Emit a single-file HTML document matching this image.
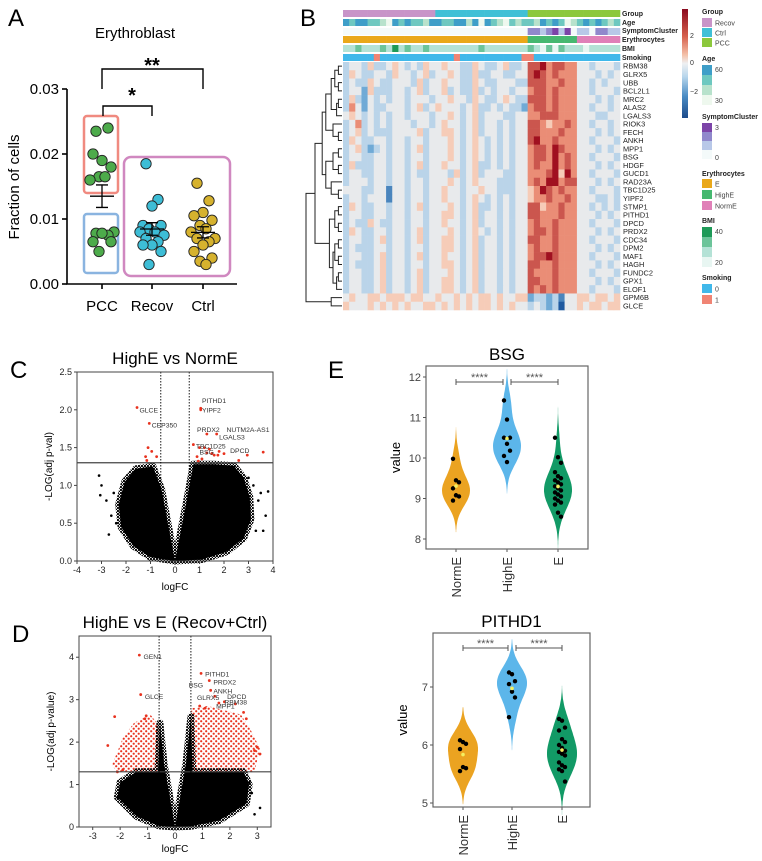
<!DOCTYPE html>
<html><head><meta charset="utf-8"><style>
html,body{margin:0;padding:0;background:#fff;}
svg{display:block;font-family:"Liberation Sans",Arial,sans-serif;}
</style></head><body>
<svg id="fig" width="762" height="861" viewBox="0 0 762 861" xmlns="http://www.w3.org/2000/svg">
<defs>
<pattern id="redDots" width="5" height="5" patternUnits="userSpaceOnUse"><circle cx="1.2" cy="1.2" r="1.1" fill="#e8321e"/><circle cx="3.7" cy="3.7" r="1.1" fill="#e8321e"/></pattern>
<pattern id="blkDots" width="3" height="3" patternUnits="userSpaceOnUse"><circle cx="1" cy="1" r="1.1" fill="#000"/><circle cx="2.5" cy="2.4" r="0.8" fill="#000"/></pattern>
</defs>
<text x="8" y="26" font-size="24">A</text>
<text x="300" y="26" font-size="24">B</text>
<text x="10" y="378" font-size="24">C</text>
<text x="12" y="642" font-size="24">D</text>
<text x="328" y="378" font-size="24">E</text>
<g id="pA"></g>
<g id="pB"></g>
<g id="pC"></g>
<g id="pD"></g>
<g id="pE"></g>
</svg>
<script>
// ---------- Panel A data ----------
const aCategories = ["PCC","Recov","Ctrl"];
const aPCC = [0.0235,0.024,0.019,0.020,0.018,0.0165,0.0165,0.016,0.0080,0.0078,0.0075,0.0078,0.0065,0.0065,0.0050];
const aRecov = [0.0185,0.0130,0.0120,0.0090,0.0090,0.0085,0.0080,0.0080,0.0075,0.0070,0.0065,0.0060,0.0060,0.0050,0.0030];
const aCtrl = [0.0155,0.0128,0.0110,0.0105,0.0098,0.0090,0.0085,0.0080,0.0070,0.0070,0.0065,0.0060,0.0050,0.0040,0.0035,0.0030];
const aYTicks = [0,0.01,0.02,0.03];
const aYTickLabels = ["0.00","0.01","0.02","0.03"];

// ---------- Panel B data ----------
const bGenes = ["RBM38","GLRX5","UBB","BCL2L1","MRC2","ALAS2","LGALS3","RIOK3","FECH","ANKH","MPP1","BSG","HDGF","GUCD1","RAD23A","TBC1D25","YIPF2","STMP1","PITHD1","DPCD","PRDX2","CDC34","DPM2","MAF1","HAGH","FUNDC2","GPX1","ELOF1","GPM6B","GLCE"];
const bRows = [
"344353345434354 454433543345334 77867766 4434443",
"354334435443453 445433533443344 78767666 4443434",
"343354334443534 454433543344433 77766766 4434344",
"344253334434534 453433534344344 67767666 4434443",
"353243434434443 445443543345433 77767666 4443434",
"364243344434534 544434533434332 67767666 4434434",
"454343434434443 445434534443344 66777666 4443344",
"346343434443443 454434534434344 77656676 4434434",
"345343334444534 455434534434344 77666766 4443434",
"354334434434434 445434543434344 78667666 4434443",
"345323434434534 445434543434344 67768766 4443434",
"344334434434434 445434543434344 67768676 4434443",
"353334434434534 454434533434344 67668676 4443434",
"344334434434334 443534534443344 66678586 4434443",
"344434434434434 445434544433344 67688677 4443434",
"444334414434434 454434454433344 56876766 4434443",
"344344414434434 454434543434344 56676676 4443343",
"354334434434534 445434533434344 77566766 4434343",
"344334434434434 455434534434344 77666766 4443434",
"343354334434434 454434534434344 67667666 4434443",
"354334434434534 445434543434344 67767666 4443434",
"344334534434534 455434534434344 77667666 4434443",
"343334434434434 455434534434344 67667666 4443434",
"344334534434534 454434534434344 67787666 4434443",
"343334534434434 455434534434344 77667666 4443434",
"344334534434534 445434534434344 76667666 4434443",
"344334534434534 455434534434344 77667666 4443434",
"344334534434534 455434534434344 76767666 4434443",
"454455455545544 544545455454455 23323144 5545545",
"544454545454455 454545455454544 34323044 5455455"];
const bLevelValues = [-3,-2.2,-1.5,-0.8,0,0.7,1.4,2.1,3];
const bAge = "323322103232213 322331303210212 21323201 2323212";
const bSymptom = "000000000000000 000000000000000 22123130 1102211";
const bBMI = "112111213121121 111111121111111 21020211 1011111";
const bSmoking = "000001000000000 000100000000001 10000000 0000000";
const bGroupCounts = [15,15,15];

// ---------- Panel C data ----------
const cRedX = [-1.55,-1.05,1.05,1.05,1.3,1.7,0.75,1.0,1.2,1.4,1.5,1.6,1.8,2.0,2.6,2.95,3.6,-1.1,-0.95,-1.2,-0.75,0.9,1.1,1.3,1.75,-1.15,0.95];
const cRedY = [2.03,1.82,2.02,2.0,1.68,1.68,1.54,1.5,1.5,1.48,1.42,1.40,1.45,1.42,1.33,1.40,1.44,1.5,1.45,1.38,1.38,1.38,1.35,1.43,1.40,1.33,1.32];
const cBlackX = [-3.1,-3.0,-2.8,-2.5,-2.6,-2.4,-3.05,3.4,3.5,3.8,3.2,3.0,3.3,3.6,-2.7,3.7];
const cBlackY = [1.13,1.0,0.8,0.9,0.6,0.5,0.87,0.8,0.9,0.92,1.0,1.1,0.4,0.4,0.35,0.6];
const cLeftWing = [[0,0],[-0.55,0.95],[-0.9,1.25],[-1.6,1.22],[-2.05,1.05],[-2.3,0.75],[-2.2,0.45],[-1.7,0.2],[-1.0,0.05]];
const cRightWing = [[0,0],[0.45,0.75],[0.75,1.28],[1.6,1.28],[2.4,1.26],[2.8,1.1],[3.05,0.85],[3.1,0.55],[2.8,0.3],[2.1,0.12],[1.1,0.02]];
const cLabels = [["PITHD1",1.1,2.12],["YIPF2",1.1,2.0],["GLCE",-1.45,2.0],["CEP350",-0.95,1.8],["PRDX2",0.9,1.74],["NUTM2A-AS1",2.1,1.74],["LGALS3",1.8,1.64],["TBC1D25",0.85,1.52],["BSG",1.0,1.44],["DPCD",2.25,1.46]];
const cXTicks = [-4,-3,-2,-1,0,1,2,3,4];
const cYTicks = [0,0.5,1.0,1.5,2.0,2.5];
const cYTickLabels = ["0.0","0.5","1.0","1.5","2.0","2.5"];

// ---------- Panel D data ----------
const dRedX = [-1.3,-1.25,0.95,1.25,1.3,1.45,1.6,-2.2,-2.45,-1.05,-1.1,2.5,2.6,3.0,3.1,2.9,-1.9,-2.1,0.9,1.1,2.2,1.8];
const dRedY = [4.05,3.12,3.62,3.45,3.22,3.08,2.92,2.6,1.92,2.62,2.55,2.7,2.55,1.88,1.72,1.8,1.35,1.3,2.85,2.8,2.9,2.95];
const dBlackX = [-2.0,-2.1,-1.9,2.9,3.1,2.8,2.6,2.7,-1.8];
const dBlackY = [0.85,0.7,1.0,0.3,0.45,0.8,1.0,1.05,0.65];
const dLeftRed = [[-0.62,1.3],[-0.6,2.4],[-0.9,2.65],[-1.5,2.45],[-1.9,2.1],[-2.3,1.45],[-2.1,1.3]];
const dRightRed = [[0.62,1.3],[0.6,2.8],[1.2,2.85],[1.8,2.75],[2.4,2.65],[2.75,2.3],[3.1,1.85],[2.9,1.3]];
const dLeftWing = [[0,0],[-0.4,1.5],[-0.55,2.45],[-0.62,1.3],[-1.4,1.3],[-2.0,1.05],[-2.1,0.7],[-1.4,0.25],[-0.6,0.03]];
const dRightWing = [[0,0],[0.4,1.5],[0.58,2.6],[0.64,1.3],[2.5,1.3],[2.7,1.0],[2.6,0.55],[1.6,0.15],[0.6,0.02]];
const dLabels = [["GEN1",-1.15,4.02],["GLCE",-1.1,3.08],["PITHD1",1.1,3.6],["PRDX2",1.4,3.42],["BSG",0.5,3.35],["ANKH",1.4,3.2],["DPCD",1.9,3.08],["GLRX5",0.8,3.05],["RBM38",1.8,2.95],["MPP1",1.5,2.85]];
const dXTicks = [-3,-2,-1,0,1,2,3];
const dYTicks = [0,1,2,3,4];

// ---------- Panel E data ----------
const eCategories = ["NormE","HighE","E"];
const bsgNormE = [9.98,9.45,9.40,9.25,9.08,9.05,8.95];
const bsgHighE = [11.42,10.95,10.5,10.5,10.35,10.18,10.05,9.9];
const bsgE = [10.5,10.02,9.88,9.65,9.55,9.5,9.45,9.4,9.35,9.3,9.25,9.2,9.15,9.1,9.05,9.0,8.95,8.9,8.85,8.65,8.55];
const pitNormE = [6.08,6.05,6.02,5.93,5.62,5.60,5.55];
const pitHighE = [7.25,7.22,7.10,7.05,6.92,6.82,6.48];
const pitE = [6.45,6.42,6.3,6.25,6.1,6.05,6.0,5.95,5.9,5.88,5.85,5.82,5.7,5.65,5.62,5.58,5.55,5.37];
const bsgYTicks = [8,9,10,11,12];
const pitYTicks = [5,6,7];

const NS = "http://www.w3.org/2000/svg";
function mk(parent, tag, attrs, text){
  const e = document.createElementNS(NS, tag);
  for (const k in attrs) e.setAttribute(k, attrs[k]);
  if (text !== undefined) e.textContent = text;
  parent.appendChild(e);
  return e;
}

// ================= Panel A =================
(function(){
  const g = document.getElementById('pA');
  const y = v => 284 - v/0.03*195;
  const xc = [102,152,203];
  let t = mk(g,'text',{x:135,y:38,'font-size':15,'text-anchor':'middle'},'Erythroblast');
  
  
  let r = mk(g,'rect',{x:84,y:116,width:34,height:77,rx:3,fill:'none',stroke:'#f08a80','stroke-width':2.5});
   
  r = mk(g,'rect',{x:84,y:214,width:34,height:59,rx:3,fill:'none',stroke:'#8ab4e0','stroke-width':2.5});
   
  r = mk(g,'rect',{x:124,y:157,width:106,height:119,rx:7,fill:'none',stroke:'#d088c0','stroke-width':2.5});
   
  let ax = mk(g,'path',{d:'M67,89 V284 H237',fill:'none',stroke:'#000','stroke-width':1.6});
   
  aYTicks.forEach((v,i)=>{
    mk(g,'line',{x1:62,x2:67,y1:y(v),y2:y(v),stroke:'#000','stroke-width':1.6});
    const tl = mk(g,'text',{x:59,y:y(v)+5,'font-size':15,'text-anchor':'end'},aYTickLabels[i]);
     
  });
  aCategories.forEach((c,i)=>{
    mk(g,'line',{x1:xc[i],x2:xc[i],y1:284,y2:289,stroke:'#000','stroke-width':1.6});
    const tl = mk(g,'text',{x:xc[i],y:311,'font-size':15,'text-anchor':'middle'},c);
     
  });
  const yl = mk(g,'text',{x:0,y:0,'font-size':15,'text-anchor':'middle',transform:'translate(19,187) rotate(-90)'},'Fraction of cells');
   
  const br1 = mk(g,'path',{d:'M102,89 V69 H203 V89',fill:'none',stroke:'#000','stroke-width':1.4});
   
  const s1 = mk(g,'text',{x:152,y:72,'font-size':20,'font-weight':'bold','text-anchor':'middle'},'**');
   
  const br2 = mk(g,'path',{d:'M103,116 V106 H152 V116',fill:'none',stroke:'#000','stroke-width':1.4});
   
  const s2 = mk(g,'text',{x:132,y:102,'font-size':20,'font-weight':'bold','text-anchor':'middle'},'*');
   
  const series = [[aPCC,'#4dab4b'],[aRecov,'#3dbdd6'],[aCtrl,'#d6b22e']];
  const jit = [-6,6,0,-9,9,-3,3,-12,12];
  series.forEach(([vals,col],i)=>{
    const mean = vals.reduce((a,b)=>a+b,0)/vals.length;
    const sd = Math.sqrt(vals.reduce((a,b)=>a+(b-mean)**2,0)/(vals.length-1));
    const se = sd/Math.sqrt(vals.length);
    vals.forEach((v,j)=>{
      const c = mk(g,'circle',{cx:xc[i]+jit[j%jit.length],cy:y(v),r:5.2,fill:col,stroke:'#222','stroke-width':0.9});
       
    });
    const m = mk(g,'path',{d:`M${xc[i]-12},${y(mean)} H${xc[i]+12} M${xc[i]},${y(mean-se)} V${y(mean+se)} M${xc[i]-6},${y(mean-se)} H${xc[i]+6} M${xc[i]-6},${y(mean+se)} H${xc[i]+6}`,stroke:'#000','stroke-width':1.3,fill:'none'});
     
  });
})();

// ================= Panel B =================
(function(){
  const g = document.getElementById('pB');
  const x0=343, x1=620, nC=45, cw=(x1-x0)/nC, y0=62, rh=(310-62)/30;
  const stops=[[-3,[31,90,160]],[-1.5,[112,170,214]],[-0.7,[196,218,236]],[0,[232,234,236]],[0.7,[246,204,184]],[1.5,[232,132,108]],[3,[160,16,32]]];
  function col(v){
    for(let i=0;i<stops.length-1;i++){
      const [a,ca]=stops[i],[b,cb]=stops[i+1];
      if(v<=b){const t=Math.max(0,(v-a)/(b-a));return `rgb(${ca.map((c,k)=>Math.round(c+(cb[k]-c)*t)).join(',')})`;}
    }
    return 'rgb(160,16,32)';
  }
  const clean = s => s.replace(/ /g,'').padEnd(nC,'4');
  bRows.forEach((row,ri)=>{
    const r = clean(row);
    for(let c=0;c<nC;c++){
      const cell = mk(g,'rect',{x:(x0+c*cw).toFixed(2),y:(y0+ri*rh).toFixed(2),width:(cw+0.3).toFixed(2),height:(rh+0.3).toFixed(2),fill:col(bLevelValues[+r[c]])});
       
    }
    const lb = mk(g,'text',{x:623,y:y0+ri*rh+rh/2+2.6,'font-size':7.4,fill:'#222'},bGenes[ri]);
     
  });
  const groupCols=['#c894c8','#40c0d6','#8cc83c'];
  const ageCols=['#eef8ee','#b8e2cc','#6ec8c0','#3e9ec8'];
  const symCols=['#f4fafa','#b8c8e8','#9088cc','#7c44a8'];
  const bmiCols=['#e8f6f2','#b4e2d6','#6cc49a','#1e9a58'];
  const smkCols=['#40b8ea','#f08474'];
  function track(ty,fn,name){
    for(let c=0;c<nC;c++){
      const rc = mk(g,'rect',{x:(x0+c*cw).toFixed(2),y:ty,width:(cw+0.3).toFixed(2),height:7,fill:fn(c)});
       
    }
  }
  const grpIdx=[]; bGroupCounts.forEach((n,i)=>{for(let k=0;k<n;k++)grpIdx.push(i);});
  track(10,c=>groupCols[grpIdx[c]],'group-annotation');
  track(19,c=>ageCols[+clean(bAge)[c]],'age-annotation');
  track(28,c=>symCols[+clean(bSymptom)[c]],'symptom-annotation');
  track(36,c=>c<30?'#eaa81a':(c<38?'#46b870':'#e080b8'),'erythrocytes-annotation');
  track(45,c=>bmiCols[+clean(bBMI)[c]],'bmi-annotation');
  track(54,c=>smkCols[+clean(bSmoking)[c]],'smoking-annotation');
  [["Group",16],["Age",25],["SymptomCluster",33],["Erythrocytes",42],["BMI",51],["Smoking",60]].forEach(([s,yy])=>{
    const t = mk(g,'text',{x:622,y:yy,'font-size':7,'font-weight':'bold',fill:'#222'},s);
     
  });
  const g1=[[[0,1,.1],[2,3,.1],.2],[[4,5,.1],6,.15],.3];
  const g2=[7,[8,9,.1],.25];
  const g3=[[10,11,.1],[12,13,.1],.25];
  const g4=[14,[15,16,.1],.3];
  const g5=[[[17,18,.1],[19,20,.1],.2],[[[21,22,.1],[23,24,.1],.2],[[25,26,.1],27,.15],.25],.35];
  const g6=[28,29,.3];
  const tree=[[[[g1,g2,.45],[g3,g4,.45],.55],g5,.75],g6,1.0];
  let dp='';
  function walk(n){
    if(typeof n==='number') return {y:y0+(n+0.5)*rh,x:342};
    const a=walk(n[0]),b=walk(n[1]),hx=342-n[2]*36;
    dp+=`M${a.x},${a.y}H${hx}V${b.y}H${b.x}`;
    return {y:(a.y+b.y)/2,x:hx};
  }
  walk(tree);
  const dd = mk(g,'path',{d:dp,fill:'none',stroke:'#222','stroke-width':1});
   
  const grad = mk(document.querySelector('defs'),'linearGradient',{id:'cbar',x1:0,y1:0,x2:0,y2:1});
  [[0,'#8a0a1e'],[0.25,'#d6604d'],[0.42,'#f4c0a8'],[0.5,'#eef0f2'],[0.62,'#b8d6ec'],[0.8,'#4a8cc4'],[1,'#1c4a8a']].forEach(([o,c])=>mk(grad,'stop',{offset:o,'stop-color':c}));
  const cb = mk(g,'rect',{x:682,y:9,width:6,height:109,fill:'url(#cbar)'});
   
  [["2",38],["0",65],["\u22122",94]].forEach(([s,yy])=>{const t=mk(g,'text',{x:690,y:yy,'font-size':7,fill:'#333'},s);});
  const L=(s,yy)=>{const t=mk(g,'text',{x:702,y:yy,'font-size':7,'font-weight':'bold',fill:'#222'},s);};
  const E=(c,yy,h,s,ty)=>{const r=mk(g,'rect',{x:702,y:yy,width:10,height:h,fill:c});if(s){const t=mk(g,'text',{x:715,y:ty||yy+h-1.5,'font-size':7,fill:'#444'},s);}};
  L('Group',14); E('#c894c8',18,9,'Recov'); E('#40c0d6',28,9,'Ctrl'); E('#8cc83c',38,9,'PCC');
  L('Age',61); E('#3e9ec8',65,10,'60',72); E('#6ec8c0',75,10); E('#b8e2cc',85,10); E('#eef8ee',95,10,'30',103);
  L('SymptomCluster',119); E('#7c44a8',123,9,'3',130); E('#9088cc',132,9); E('#b8c8e8',141,9); E('#f4fafa',150,9,'0',160);
  L('Erythrocytes',176); E('#eaa81a',179,9,'E'); E('#46b870',190,9,'HighE'); E('#e080b8',201,9,'NormE');
  L('BMI',223); E('#1e9a58',227,10,'40',234); E('#6cc49a',237,10); E('#b4e2d6',247,10); E('#e8f6f2',257,10,'20',265);
  L('Smoking',280); E('#40b8ea',284,9,'0'); E('#f08474',295,9,'1');
})();

// ================= Volcano helper =================
function volcano(gid, o){
  const g=document.getElementById(gid);
  const X=v=>o.L+(v-o.xmin)/(o.xmax-o.xmin)*(o.R-o.L);
  const Y=v=>o.B-(v-o.ymin)/(o.ymax-o.ymin)*(o.B-o.T);
  const t=mk(g,'text',{x:(o.L+o.R)/2,y:o.T-8,'font-size':17,'text-anchor':'middle'},o.title);
   
  const poly=(pts,fill,stroke,sw,name)=>{const p=mk(g,'path',{d:'M'+pts.map(q=>X(q[0]).toFixed(1)+','+Y(q[1]).toFixed(1)).join('L')+'Z',fill:fill,stroke:stroke,'stroke-width':sw,'stroke-linejoin':'round'});};
  (o.redPolys||[]).forEach(pp=>poly(pp,'url(#redDots)','none',0,'significant-gene-cloud'));
  o.wings.forEach(pp=>poly(pp,'#000','url(#blkDots)',7,'nonsignificant-gene-cloud'));
  o.bx.forEach((v,i)=>{const c=mk(g,'circle',{cx:X(v),cy:Y(o.by[i]),r:1.3,fill:'#000'});});
  o.rx.forEach((v,i)=>{const c=mk(g,'circle',{cx:X(v),cy:Y(o.ry[i]),r:1.4,fill:'#e8321e'});});
  mk(g,'line',{x1:o.L,x2:o.R,y1:Y(1.3),y2:Y(1.3),stroke:'#444','stroke-width':1.2});
  [-0.58,0.58].forEach(v=>mk(g,'line',{x1:X(v),x2:X(v),y1:o.T,y2:o.B,stroke:'#000','stroke-width':0.9,'stroke-dasharray':'1.5,1.5'}));
  const fr=mk(g,'rect',{x:o.L,y:o.T,width:o.R-o.L,height:o.B-o.T,fill:'none',stroke:'#444','stroke-width':1});
   
  o.xt.forEach(v=>{mk(g,'line',{x1:X(v),x2:X(v),y1:o.B,y2:o.B+3,stroke:'#444'});const tl=mk(g,'text',{x:X(v),y:o.B+12,'font-size':9,'text-anchor':'middle',fill:'#222'},String(v));});
  o.yt.forEach((v,i)=>{mk(g,'line',{x1:o.L-3,x2:o.L,y1:Y(v),y2:Y(v),stroke:'#444'});const tl=mk(g,'text',{x:o.L-5,y:Y(v)+3,'font-size':9,'text-anchor':'end',fill:'#222'},o.ytl?o.ytl[i]:String(v));});
  const xl=mk(g,'text',{x:(o.L+o.R)/2,y:o.xlY,'font-size':10,'text-anchor':'middle'},'logFC');
   
  const yl=mk(g,'text',{x:0,y:0,'font-size':10,'text-anchor':'middle',transform:`translate(${o.L-25},${(o.T+o.B)/2}) rotate(-90)`},o.ylab);
   
  o.labels.forEach(([s,lx,ly])=>{const tl=mk(g,'text',{x:X(lx),y:Y(ly)+2.5,'font-size':6.8,fill:'#333'},s);});
}
volcano('pC',{L:77,R:273,T:372,B:561,xmin:-4,xmax:4,ymin:0,ymax:2.5,title:'HighE vs NormE',wings:[cLeftWing,cRightWing],bx:cBlackX,by:cBlackY,rx:cRedX,ry:cRedY,xt:cXTicks,yt:cYTicks,ytl:cYTickLabels,xlY:590,ylab:'-LOG(adj p-val)',labels:cLabels});
volcano('pD',{L:79,R:271,T:636,B:827,xmin:-3.5,xmax:3.5,ymin:0,ymax:4.5,title:'HighE vs E (Recov+Ctrl)',redPolys:[dLeftRed,dRightRed],wings:[dLeftWing,dRightWing],bx:dBlackX,by:dBlackY,rx:dRedX,ry:dRedY,xt:dXTicks,yt:dYTicks,xlY:852,ylab:'-LOG(adj p-value)',labels:dLabels});

// ================= Panel E =================
function violinPanel(o){
  const g=document.getElementById('pE');
  const Y=v=>o.y0-(v-o.v0)*o.ppu;
  const t=mk(g,'text',{x:(o.L+o.R)/2,y:o.T-6,'font-size':17,'text-anchor':'middle'},o.title);
   
  const cols=['#eba321','#5cb6ea','#129a66'];
  o.groups.forEach((vals,gi)=>{
    const xc=o.xc[gi], bw=o.bw;
    const lo=Math.min(...vals)-2.6*bw, hi=Math.max(...vals)+2.6*bw;
    const ys=[],ds=[];
    for(let k=0;k<=60;k++){const v=lo+(hi-lo)*k/60;let d=0;vals.forEach(p=>d+=Math.exp(-0.5*((v-p)/bw)**2));ys.push(v);ds.push(d);}
    const mx=Math.max(...ds);
    let d='M'+ys.map((v,k)=>(xc+ds[k]/mx*o.w).toFixed(1)+','+Y(v).toFixed(1)).join('L');
    for(let k=60;k>=0;k--) d+='L'+(xc-ds[k]/mx*o.w).toFixed(1)+','+Y(ys[k]).toFixed(1);
    const p=mk(g,'path',{d:d+'Z',fill:cols[gi]});
     
    vals.forEach((v,j)=>{const c=mk(g,'circle',{cx:xc+((j%3)-1)*3,cy:Y(v),r:2.2,fill:'#000'});});
    const mean=vals.reduce((a,b)=>a+b,0)/vals.length;
    const m=mk(g,'circle',{cx:xc,cy:Y(mean),r:1.8,fill:'#f4f060'});
     
    const tl=mk(g,'text',{x:0,y:0,'font-size':13,'text-anchor':'end',fill:'#333',transform:`translate(${xc+5},${o.B+8}) rotate(-90)`},eCategories[gi]);
     
    mk(g,'line',{x1:xc,x2:xc,y1:o.B,y2:o.B+3,stroke:'#555'});
  });
  const fr=mk(g,'rect',{x:o.L,y:o.T,width:o.R-o.L,height:o.B-o.T,fill:'none',stroke:'#666','stroke-width':1.2});
   
  o.yt.forEach(v=>{mk(g,'line',{x1:o.L-3,x2:o.L,y1:Y(v),y2:Y(v),stroke:'#555'});const tl=mk(g,'text',{x:o.L-5,y:Y(v)+4,'font-size':11,'text-anchor':'end',fill:'#444'},String(v));});
  const yl=mk(g,'text',{x:0,y:0,'font-size':13,'text-anchor':'middle',transform:`translate(${o.L-26},${(o.T+o.B)/2}) rotate(-90)`},'value');
   
  [[o.xc[0],o.xc[1]-4],[o.xc[1]+4,o.xc[2]]].forEach(([a,b])=>{
    const br=mk(g,'path',{d:`M${a},${o.sy-3}V${o.sy+3}M${a},${o.sy}H${b}M${b},${o.sy-3}V${o.sy+3}`,stroke:'#555','stroke-width':1,fill:'none'});
     
    const st=mk(g,'text',{x:(a+b)/2,y:o.sy-1,'font-size':11,'text-anchor':'middle',fill:'#555'},'****');
     
  });
}
violinPanel({title:'BSG',L:426,R:588,T:366,B:549,xc:[456,507,558],y0:539,v0:8,ppu:40.5,groups:[bsgNormE,bsgHighE,bsgE],yt:bsgYTicks,bw:0.3,w:14,sy:382});
violinPanel({title:'PITHD1',L:433,R:590,T:633,B:807,xc:[463,512,562],y0:803,v0:5,ppu:58,groups:[pitNormE,pitHighE,pitE],yt:pitYTicks,bw:0.22,w:15,sy:648});
</script>
</body></html>
